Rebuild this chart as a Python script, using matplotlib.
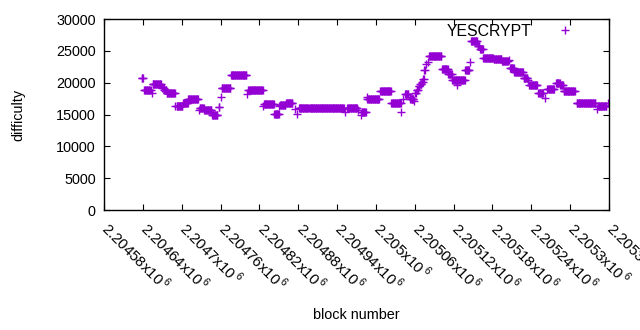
import numpy as np
import matplotlib
matplotlib.use('Agg')
import matplotlib.pyplot as plt
import matplotlib.transforms as mtrans

# difficulty runs: first block, last block, difficulty
run_start = [2204638, 2204642, 2204654, 2204655, 2204670, 2204673, 2204677, 2204690, 2204692,
             2204702, 2204710, 2204727, 2204728, 2204735, 2204747, 2204757, 2204761, 2204762,
             2204776, 2204801, 2204803, 2204826, 2204827, 2204843, 2204851, 2204852, 2204861,
             2204875, 2204878, 2204881, 2204897, 2204953, 2204956, 2204972, 2204977, 2204978,
             2204986, 2204987, 2205007, 2205024, 2205039, 2205042, 2205045, 2205052, 2205053,
             2205059, 2205061, 2205063, 2205066, 2205068, 2205071, 2205073, 2205075, 2205078,
             2205080, 2205082, 2205102, 2205112, 2205118, 2205125, 2205138, 2205145, 2205147,
             2205157, 2205161, 2205166, 2205182, 2205195, 2205205, 2205207, 2205214, 2205228,
             2205235, 2205237, 2205251, 2205261, 2205265, 2205278, 2205285, 2205290, 2205310,
             2205341, 2205343, 2205358]
run_end = [2204640, 2204652, 2204654, 2204668, 2204672, 2204676, 2204689, 2204690, 2204701,
           2204709, 2204725, 2204727, 2204734, 2204746, 2204755, 2204758, 2204761, 2204775,
           2204800, 2204801, 2204825, 2204826, 2204842, 2204850, 2204851, 2204860, 2204871,
           2204875, 2204878, 2204895, 2204950, 2204953, 2204971, 2204972, 2204977, 2204984,
           2204986, 2205005, 2205023, 2205038, 2205039, 2205042, 2205050, 2205052, 2205058,
           2205059, 2205062, 2205065, 2205067, 2205070, 2205072, 2205074, 2205076, 2205078,
           2205080, 2205101, 2205111, 2205117, 2205137, 2205125, 2205144, 2205145, 2205156,
           2205160, 2205165, 2205181, 2205194, 2205204, 2205205, 2205213, 2205227, 2205234,
           2205235, 2205249, 2205258, 2205261, 2205275, 2205284, 2205289, 2205307, 2205339,
           2205341, 2205356, 2205358]
run_diff = [20700, 18800, 18330, 19740, 19100, 18800, 18430, 16390, 16390,
            16880, 17380, 15700, 16020, 15660, 14870, 16180, 17800, 19110,
            21150, 18220, 18800, 16330, 16600, 15130, 16390, 16490, 16760,
            15860, 15030, 16070, 15970, 15440, 15970, 15700, 14920, 15350,
            17700, 17380, 18690, 16760, 15440, 17380, 18270, 17800, 17380,
            17170, 18430, 18850, 19500, 19800, 20100, 20530, 22000, 23000,
            23300, 24140, 22100, 21360, 20370, 19630, 21940, 23300, 26490,
            25710, 25240, 23820, 23670, 23400, 23600, 22350, 21680, 20780,
            20420, 19580, 18330, 17540, 19060, 20000, 19630, 18690, 16810,
            15810, 16390, 16810]

blocks = []
diffs = []
for s, e, d in zip(run_start, run_end, run_diff):
    for b in range(s, e + 1):
        blocks.append(b)
        diffs.append(d)

plt.rcParams['font.family'] = ['Liberation Sans', 'DejaVu Sans']
plt.rcParams['mathtext.fontset'] = 'custom'
plt.rcParams['mathtext.rm'] = 'Liberation Sans'

fig = plt.figure(figsize=(6.4, 3.3), dpi=100)
ax = fig.add_axes([0.1625, 0.3636, 0.789, 0.5788])
ax.plot(blocks, diffs, '+', color='#9400d3', markersize=6, markeredgewidth=1.0,
        label='YESCRYPT')

ax.set_xlim(2204580, 2205360)
ax.set_ylim(0, 30000)
xt = np.arange(2204580, 2205361, 60)
ax.set_xticks(xt)
ax.set_xticklabels(['{:.6g}x10$\\,^{{6}}$'.format(v / 1e6) for v in xt],
                   rotation=-45, ha='left', va='top', rotation_mode='anchor', fontsize=10.8)
ax.set_yticks(np.arange(0, 30001, 5000))
ax.tick_params(axis='y', labelsize=10.4)
ax.tick_params(direction='in', top=True, right=True, length=4, width=0.8, pad=6)
# nudge rotated labels right so they start at the tick like gnuplot
offset = mtrans.ScaledTranslation(8 / 100, 0, fig.dpi_scale_trans)
for lbl in ax.get_xticklabels():
    lbl.set_transform(lbl.get_transform() + offset)
for sp in ax.spines.values():
    sp.set_linewidth(1.0)

ax.set_xlabel('block number', fontsize=10.4, labelpad=10)
ax.set_ylabel('difficulty', fontsize=10.4, labelpad=22)
ax.legend(loc='upper right', frameon=False, markerfirst=False, fontsize=11.4,
          handlelength=2.5, borderaxespad=0.2, bbox_to_anchor=(0.97, 1.025))

fig.savefig('out.png', dpi=100)
